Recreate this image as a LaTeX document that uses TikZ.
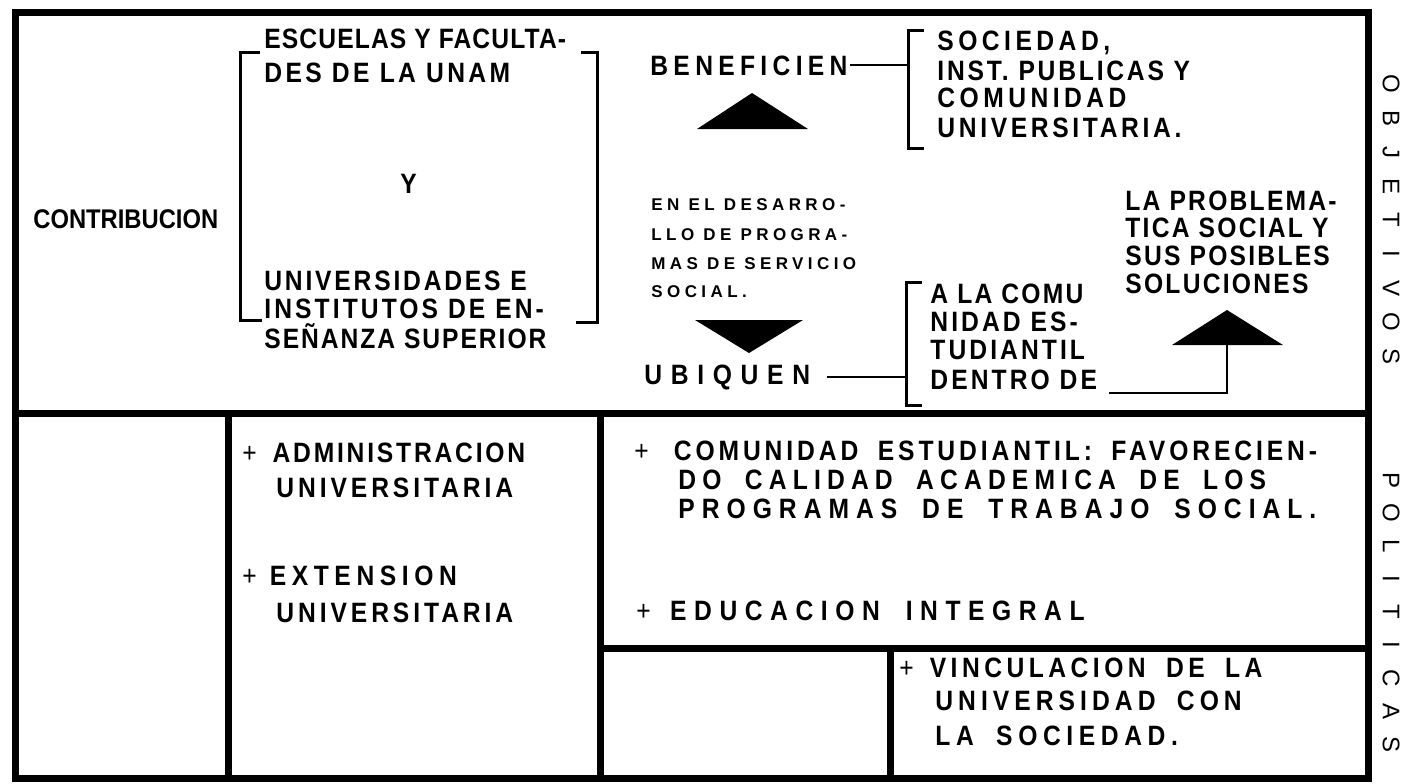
\documentclass[tikz,border=0pt]{standalone}
\usepackage{fontspec}
\setmainfont{Liberation Sans}[FakeStretch=0.88]
\newfontfamily\ancha{Liberation Sans}
\newfontfamily\abierta{Liberation Sans}[FakeStretch=0.88, WordSpace=1.8]
\newcommand\espacio[1]{\addfontfeatures{LetterSpace=#1}}
\newcommand\mas{{\mdseries +}}
\tikzset{
  txt/.style={anchor=base west, inner sep=0pt, font=\fontsize{14}{16}\selectfont\bfseries\espacio{#1}},
  txt/.default=0,
  ancho/.style={anchor=base west, inner sep=0pt, font=\abierta\fontsize{14}{16}\selectfont\bfseries\espacio{#1}},
  chico/.style={anchor=base west, inner sep=0pt, font=\ancha\fontsize{8.5}{10}\selectfont\bfseries\espacio{26}},
  vert/.style={rotate=-90, inner sep=0pt, font=\ancha\fontsize{12}{14}\selectfont},
  marco/.style={line width=3.5pt},
  llave/.style={line width=1.5pt},
  conector/.style={line width=1.1pt}
}
\begin{document}
\begin{tikzpicture}[x=0.5pt,y=-0.5pt]
\useasboundingbox (0,0) rectangle (1408,783);
% marco general
\draw[marco] (15,12) rectangle (1368,778);
\draw[marco] (15,413) -- (1368,413);
\draw[marco] (228,413) -- (228,778);
\draw[marco] (600,413) -- (600,778);
\draw[marco] (600,648) -- (1368,648);
\draw[marco] (890,648) -- (890,778);
% objetivos
\node[txt, font=\fontsize{13.5}{16}\selectfont\bfseries] (contrib) at (33,228) {CONTRIBUCION};
\node[txt=4] (escuelas) at (264,48) {ESCUELAS Y FACULTA-};
\node[txt=12] (unam) at (264,82) {DES DE LA UNAM};
\node[txt] (y) at (400,193) {Y};
\node[txt=10] (univ) at (264,290) {UNIVERSIDADES E};
\node[txt=11] (inst) at (264,318) {INSTITUTOS DE EN-};
\node[txt=7] (ensen) at (264,348) {SEÑANZA SUPERIOR};
\draw[llave] (260,52) -- (240,52) -- (240,320) -- (262,320);
\draw[llave] (581,52) -- (597,52) -- (597,322) -- (576,322);
\node[txt=19] (benef) at (650,75) {BENEFICIEN};
\coordinate (llaveA) at (908,30);
\draw[llave] (924,30) -- (llaveA) -- (908,148) -- (924,148);
\draw[conector] ([xshift=1pt]benef.east) -- (benef.east -| llaveA);
\node[txt=16] (soc) at (937,50) {SOCIEDAD,};
\node[txt=10] (pub) at (937,80) {INST. PUBLICAS Y};
\node[txt=16] (comu) at (937,107) {COMUNIDAD};
\node[txt=13] (univ2) at (937,137) {UNIVERSITARIA.};
\fill (697,129) -- (752,93) -- (808,129) -- cycle;
\node[chico] (desa1) at (651,210) {EN EL DESARRO-};
\node[chico] (desa2) at (651,240) {LLO DE PROGRA-};
\node[chico] (desa3) at (651,269) {MAS DE SERVICIO};
\node[chico] (desa4) at (651,297) {SOCIAL.};
\fill (695,320) -- (803,320) -- (749,353) -- cycle;
\node[txt=31] (ubiq) at (644,384) {UBIQUEN};
\coordinate (llaveB) at (906,282);
\draw[llave] (922,282) -- (llaveB) -- (906,405) -- (922,405);
\draw[conector] ([xshift=8pt]ubiq.east) -- (ubiq.east -| llaveB);
\node[txt=8] (ala) at (930,303) {A LA COMU};
\node[txt=11] (nidad) at (930,331) {NIDAD ES-};
\node[txt=11] (tud) at (930,359) {TUDIANTIL};
\node[txt=11] (dentro) at (930,389) {DENTRO DE};
\fill (1172,345) -- (1227,310) -- (1283,345) -- cycle;
\coordinate (baseC) at (1227,345);
\draw[conector] ([shift={(6pt,-2pt)}]dentro.base east) -| (baseC);
\node[txt=8] (prob) at (1125,210) {LA PROBLEMA-};
\node[txt=8] (tica) at (1125,237) {TICA SOCIAL Y};
\node[txt=8] (sus) at (1125,265) {SUS POSIBLES};
\node[txt=8] (sol) at (1125,293) {SOLUCIONES};
\foreach \l [count=\i] in {O,B,J,E,T,I,V,O,S}
  \node[vert] (obj\i) at (1391,50+34*\i) {\l};
% politicas
\node[txt=10] (adm) at (242,462) {\mas\hspace{7.9pt}ADMINISTRACION};
\node[txt=14] (adm2) at (276,497) {UNIVERSITARIA};
\node[txt=20] (ext) at (242,585) {\mas\hspace{6.5pt}EXTENSION};
\node[txt=14] (ext2) at (276,622) {UNIVERSITARIA};
\node[ancho=14] (estud) at (634,460) {\mas\hspace{12.5pt}COMUNIDAD ESTUDIANTIL: FAVORECIEN-};
\node[ancho=22] (calid) at (678,489) {DO CALIDAD ACADEMICA DE LOS};
\node[ancho=25] (progr) at (678,518) {PROGRAMAS DE TRABAJO SOCIAL.};
\node[ancho=27] (educ) at (636,620) {\mas\hspace{9.7pt}EDUCACION INTEGRAL};
\node[ancho=16] (vinc) at (899,677) {\mas\hspace{8pt}VINCULACION DE LA};
\node[ancho=18] (vinc2) at (935,710) {UNIVERSIDAD CON};
\node[ancho=20] (vinc3) at (935,745) {LA SOCIEDAD.};
\foreach \l [count=\i] in {P,O,L,I,T,I,C,A,S}
  \node[vert] (pol\i) at (1391,447+33*\i) {\l};
\end{tikzpicture}
\end{document}
